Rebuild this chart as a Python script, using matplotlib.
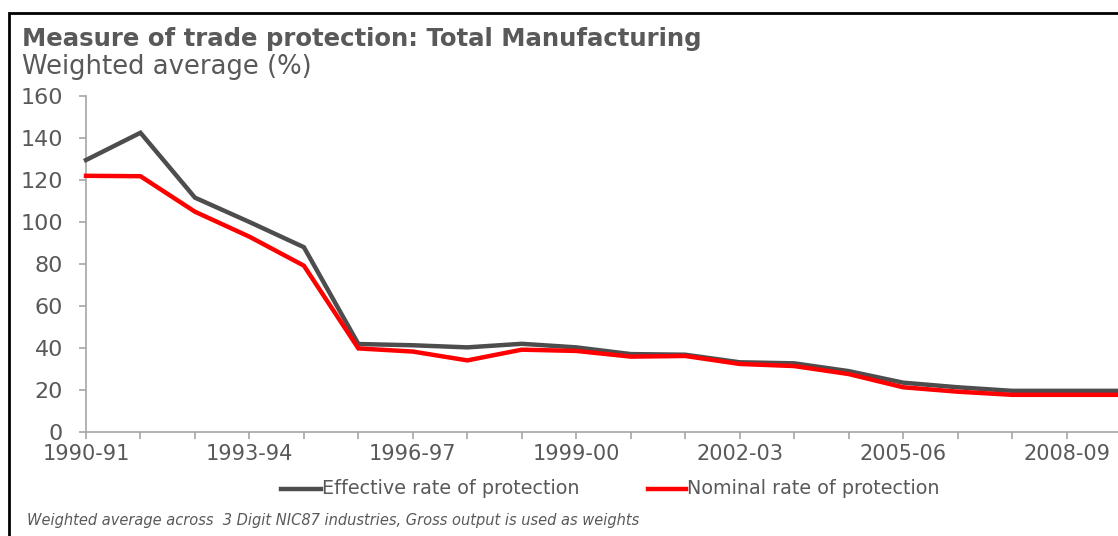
import matplotlib
matplotlib.use("Agg")
import matplotlib.pyplot as plt
from matplotlib.lines import Line2D
from matplotlib.patches import Rectangle
from matplotlib.ticker import FixedLocator

# Fiscal years
years = ["1990-91", "1991-92", "1992-93", "1993-94", "1994-95", "1995-96",
         "1996-97", "1997-98", "1998-99", "1999-00", "2000-01", "2001-02",
         "2002-03", "2003-04", "2004-05", "2005-06", "2006-07", "2007-08",
         "2008-09", "2009-10"]

# Weighted average rates of protection (%)
effective_rate = [129.5, 142.5, 111.6, 100.0, 88.0, 41.9, 41.3, 40.3, 42.0, 40.3,
                  37.1, 36.8, 33.2, 32.7, 29.0, 23.5, 21.3, 19.6, 19.6, 19.6]
nominal_rate = [122.0, 121.8, 104.9, 93.0, 79.2, 39.8, 38.3, 34.1, 39.2, 38.6,
                35.9, 36.2, 32.4, 31.4, 27.6, 21.3, 19.2, 17.7, 17.7, 17.7]

series_names = ["Effective rate of protection", "Nominal rate of protection"]
y_ticks = [0, 20, 40, 60, 80, 100, 120, 140, 160]

W, H = 1118, 536
TXT = "#595959"
AXC = "#a6a6a6"
GRAY = "#4d4d4d"
RED = "#ff0000"
FONT = "DejaVu Sans"

fig = plt.figure(figsize=(W / 100, H / 100), dpi=100)
fig.patch.set_facecolor("white")

# Plot area: x from category 0 to 19, y from 0 to 160
x0, x1 = 86, 1121
y_top, y_bot = 96, 432
ax = fig.add_axes([x0 / W, 1 - y_bot / H, (x1 - x0) / W, (y_bot - y_top) / H])

xs = list(range(len(years)))
ax.plot(xs, effective_rate, color=GRAY, lw=3.2, solid_joinstyle="miter", clip_on=False, zorder=3)
ax.plot(xs, nominal_rate, color=RED, lw=3.2, solid_joinstyle="miter", clip_on=False, zorder=4)

ax.set_xlim(0, len(years) - 1)
ax.set_ylim(0, 160)

for side in ("top", "right"):
    ax.spines[side].set_visible(False)
for side in ("left", "bottom"):
    ax.spines[side].set_color(AXC)
    ax.spines[side].set_linewidth(1.2)

ax.set_yticks(y_ticks)
ax.set_yticklabels([str(v) for v in y_ticks], fontsize=16, color=TXT, family=FONT)
ax.tick_params(axis="y", direction="out", length=5, width=1.2, color=AXC, pad=11.5)

major = [i for i in xs if i % 3 == 0]
minor = [i for i in xs if i % 3 != 0]
ax.xaxis.set_major_locator(FixedLocator(major))
ax.xaxis.set_minor_locator(FixedLocator(minor))
ax.set_xticklabels([years[i] for i in major], fontsize=15, color=TXT, family=FONT)
ax.tick_params(axis="x", which="both", direction="out", length=5, width=1.2, color=AXC, pad=4)

# Titles
fig.text(22 / W, 1 - 27 / H, "Measure of trade protection: Total Manufacturing",
         fontsize=17.6, fontweight="bold", color=TXT, family=FONT, va="top", ha="left")
fig.text(22 / W, 1 - 54 / H, "Weighted average (%)",
         fontsize=18.6, color=TXT, family=FONT, va="top", ha="left")

# Legend
leg_y = 1 - 489 / H
for (xa, xb, xt), name, col in zip([(281, 321, 322), (648, 686, 687)], series_names, [GRAY, RED]):
    fig.add_artist(Line2D([xa / W, xb / W], [leg_y, leg_y], color=col, lw=3.2,
                          transform=fig.transFigure))
    fig.text(xt / W, leg_y, name, fontsize=13.8, color=TXT, family=FONT,
             va="center", ha="left")

# Footnote
fig.text(27 / W, 1 - 520 / H,
         "Weighted average across  3 Digit NIC87 industries, Gross output is used as weights",
         fontsize=10.5, style="italic", color=TXT, family=FONT, va="center", ha="left")

# Frame around the figure
fig.add_artist(Rectangle((9 / W, -0.05), 1.2, 1 - 13 / H + 0.05, transform=fig.transFigure,
                         fill=False, edgecolor="black", lw=2.0, clip_on=False))

fig.savefig("out.png", dpi=100, facecolor="white")
